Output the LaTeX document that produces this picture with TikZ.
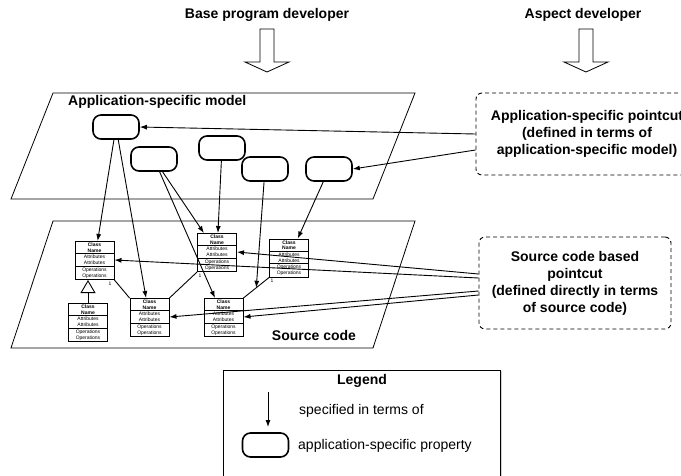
\documentclass[tikz,border=0pt]{standalone}
\usepackage{fontspec}
\setmainfont{Liberation Sans}
\usetikzlibrary{positioning,arrows.meta,shapes.multipart,shadows}

\begin{document}
\begin{tikzpicture}[x=1pt,y=-1pt]
		\tikzstyle{prop_style} = [draw=black,line width=1.6pt,rounded corners=8pt,minimum width=46pt,minimum height=24pt]
		\tikzstyle{class_style} = [draw=black,line width=0.9pt,rectangle split,rectangle split parts=3,text width=36pt,align=center,inner xsep=1.5pt,inner ysep=1pt,font=\fontsize{5}{5.8}\selectfont]
		\tikzstyle{cut_style} = [draw=black,line width=0.9pt,dash pattern=on 4pt off 3pt,rounded corners=6pt,align=center,font=\bfseries\fontsize{14}{17}\selectfont]
		\tikzstyle{title_style} = [inner sep=0pt,font=\bfseries\fontsize{14}{17}\selectfont]
		\tikzstyle{text_style} = [inner sep=0pt,font=\fontsize{14}{17}\selectfont]
		\tikzstyle{spec_style} = [draw=black,line width=0.9pt,-{Latex[length=7pt,width=5pt]}]
		\tikzstyle{assoc_style} = [draw=black,line width=0.9pt]
		\tikzstyle{gen_style} = [draw=black,line width=0.9pt,-{Triangle[open,length=13pt,width=15pt,fill=white]}]
		\tikzstyle{plane_style} = [draw=black,line width=0.8pt]
		\tikzstyle{block_style} = [draw=black,line width=0.8pt,fill=white]
		\tikzstyle{mult_style} = [inner sep=0pt,font=\fontsize{5}{6}\selectfont]
		\useasboundingbox (0,0) rectangle (681,475);
		\clip (0,0) rectangle (681,475);
		\fill[white] (0,0) rectangle (681,475);
		% developers
		\node[title_style] (dev1) at (267,15) {Base program developer};
		\node[title_style] (dev2) at (583,15) {Aspect developer};
		\draw[block_style] (260,29) -- (274,29) -- (274,62) -- (289,62) -- (267,72) -- (245,62) -- (260,62) -- cycle;
		\draw[block_style] (579,29) -- (593,29) -- (593,62) -- (608,62) -- (586,72) -- (564,62) -- (579,62) -- cycle;
		% planes
		\draw[plane_style] (53,93) -- (415,93) -- (373,199) -- (11,199) -- cycle;
		\draw[plane_style] (53,221) -- (415,221) -- (373,348) -- (11,348) -- cycle;
		\node[title_style,anchor=west] (model) at (68,102) {Application-specific model};
		\node[title_style] (source) at (314,335) {Source code};
		% application-specific properties
		\node[prop_style] (p1) at (116,127) {};
		\node[prop_style] (p2) at (154,159) {};
		\node[prop_style] (p3) at (222,148) {};
		\node[prop_style] (p4) at (265,169) {};
		\node[prop_style] (p5) at (329,169) {};
		% classes
		\node[class_style] (c1) at (94.5,260.5) {\textbf{Class}\\\textbf{Name}\nodepart{two}Attributes\\Attributes\nodepart{three}Operations\\Operations};
		\node[class_style] (c2) at (88,322.5) {\textbf{Class}\\\textbf{Name}\nodepart{two}Attributes\\Attributes\nodepart{three}Operations\\Operations};
		\node[class_style] (c3) at (149.5,317.5) {\textbf{Class}\\\textbf{Name}\nodepart{two}Attributes\\Attributes\nodepart{three}Operations\\Operations};
		\node[class_style] (c4) at (217,252.5) {\textbf{Class}\\\textbf{Name}\nodepart{two}Attributes\\Attributes\nodepart{three}Operations\\Operations};
		\node[class_style] (c5) at (223.5,317.5) {\textbf{Class}\\\textbf{Name}\nodepart{two}Attributes\\Attributes\nodepart{three}Operations\\Operations};
		\node[class_style] (c6) at (289,258) {\textbf{Class}\\\textbf{Name}\nodepart{two}Attributes\\Attributes\nodepart{three}Operations\\Operations};
		\node[mult_style] (m1) at (110,284) {1};
		\node[mult_style] (m2) at (200,276) {1};
		\node[mult_style] (m3) at (272,281) {1};
		\draw[assoc_style] (c1.south east) -- (c3.north west);
		\draw[assoc_style] (c4.south west) -- (c3.north east);
		\draw[assoc_style] (c6.south west) -- coordinate[midway] (a1) (c5.north east);
		\draw[gen_style] (c2.north) -- (c2.north |- c1.south);
		% specified in terms of
		\path (p1) edge[spec_style] (c1);
		\path (p1) edge[spec_style] (c3);
		\path (p2) edge[spec_style] (c4);
		\path (p2) edge[spec_style] (c5);
		\path (p3) edge[spec_style] (c4);
		\path (p4) edge[spec_style] (a1);
		\path (p5) edge[spec_style] (c6);
		% pointcuts
		\node[cut_style,minimum width=222pt,minimum height=82pt] (cut1) at (587,134) {Application-specific pointcut\\(defined in terms of\\application-specific model)};
		\node[cut_style,minimum width=192pt,minimum height=92pt] (cut2) at (575,283) {Source code based\\pointcut\\(defined directly in terms\\of source code)};
		\path (cut1.west) edge[spec_style] (p1.east);
		\path ([yshift=-16pt]cut1.west) edge[spec_style] (p5.east);
		\path ([yshift=9pt]cut2.west) edge[spec_style] (c4.two east);
		\path ([yshift=5pt]cut2.west) edge[spec_style] (c1.two east);
		\path ([yshift=-8pt]cut2.west) edge[spec_style] (c3.two east);
		\path ([yshift=-12pt]cut2.west) edge[spec_style] (c5.two east);
		% legend
		\node[draw=black,line width=0.9pt,fill=white,drop shadow={shadow xshift=2pt,shadow yshift=-1pt,opacity=0.35},minimum width=277pt,minimum height=130pt,anchor=north west] (legend) at (223,370) {};
		\node[title_style] (lt) at (362,381) {Legend};
		\coordinate (la) at (268,392);
		\coordinate (lb) at (268,427);
		\draw[spec_style] (la) -- (lb);
		\node[text_style,anchor=west] (l1) at (299,411) {specified in terms of};
		\node[prop_style] (lp) at (265.5,445) {};
		\node[text_style,anchor=west] (l2) at (298,446) {application-specific property};
	    	\end{tikzpicture}
\end{document}
